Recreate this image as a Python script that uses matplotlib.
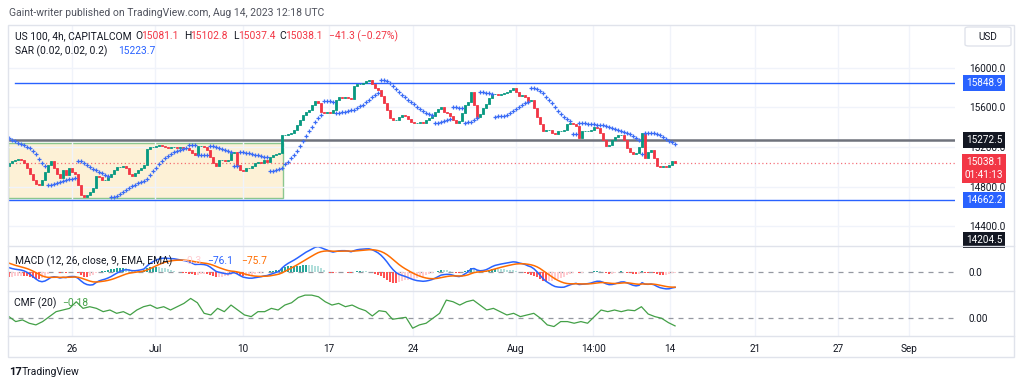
import numpy as np
import matplotlib
matplotlib.use("Agg")
import matplotlib.pyplot as plt
from matplotlib.patches import Rectangle, FancyBboxPatch
from matplotlib.lines import Line2D
from matplotlib.transforms import blended_transform_factory

plt.rcParams['font.family'] = ['Roboto', 'DejaVu Sans']

# --- data (US100 4h closes, one per bar) ---
closes = [
    15039, 15059, 15069, 15079, 15069, 15039, 14988, 14927, 14867, 14826,
    14816, 14867, 14947, 15018, 15059, 14988, 14927, 14887, 14968, 14917,
    14988, 14947, 14927, 14816, 14715, 14694, 14715, 14745, 14786, 14907,
    14897, 14867, 14867, 14897, 14927, 14968, 14998, 14998, 15008, 14988,
    14927, 14907, 14937, 14968, 14988, 15018, 15180, 15200, 15200, 15211,
    15221, 15211, 15200, 15190, 15200, 15200, 15190, 15200, 15190, 15190,
    15170, 15140, 15120, 15211, 15211, 15200, 15170, 15099, 15039, 15008,
    15069, 15069, 15059, 15069, 15140, 15150, 15018, 14968, 14958, 14988,
    14988, 15008, 15039, 15049, 15039, 15069, 15049, 15099, 15120, 15130,
    15140, 15322, 15322, 15332, 15342, 15373, 15423, 15474, 15524, 15555,
    15575, 15626, 15666, 15646, 15555, 15545, 15555, 15545, 15575, 15676,
    15707, 15697, 15707, 15697, 15686, 15818, 15838, 15838, 15848, 15868,
    15879, 15838, 15798, 15777, 15717, 15646, 15575, 15494, 15474, 15474,
    15504, 15524, 15514, 15484, 15454, 15444, 15444, 15454, 15444, 15474,
    15494, 15514, 15555, 15585, 15606, 15555, 15545, 15514, 15474, 15444,
    15464, 15545, 15626, 15656, 15757, 15626, 15504, 15535, 15595, 15636,
    15697, 15737, 15737, 15727, 15737, 15747, 15757, 15777, 15798, 15757,
    15717, 15727, 15707, 15666, 15676, 15595, 15504, 15433, 15362, 15373,
    15373, 15342, 15332, 15362, 15362, 15373, 15433, 15444, 15433, 15413,
    15292, 15362, 15362, 15362, 15373, 15403, 15393, 15342, 15271, 15211,
    15221, 15271, 15302, 15322, 15322, 15271, 15190, 15150, 15130, 15140,
    15200, 15342, 15089, 15150, 15170, 15089, 15008, 14998, 15008, 14998,
    15018, 15059, 15038.1,
]
first_open = 15010.0

# Chaikin money flow, traced (evenly spaced over the bars)
cmf = [
    0.022, -0.086, -0.050, -0.122, -0.158, -0.086, 0.022, 0.130, 0.166, 0.202,
    0.346, 0.202, 0.238, 0.202, 0.130, 0.166, 0.094, 0.130, 0.058, 0.166,
    0.238, 0.274, 0.202, 0.238, 0.166, 0.238, 0.310, 0.418, 0.324, 0.094,
    0.058, 0.202, 0.130, 0.274, 0.166, 0.058, 0.022, 0.130, 0.130, 0.202,
    0.166, 0.274, 0.324, 0.439, 0.490, 0.490, 0.454, 0.346, 0.274, 0.310,
    0.238, 0.274, 0.202, 0.151, 0.036, 0.151, 0.130, -0.036, -0.014, 0.007,
    -0.230, -0.158, -0.122, -0.014, 0.094, 0.382, 0.346, 0.274, 0.346, 0.382,
    0.274, 0.166, 0.202, 0.130, 0.058, 0.094, 0.022, 0.058, 0.094, -0.014,
    -0.158, -0.194, -0.086, -0.086, -0.122, -0.086, -0.122, 0.022, 0.166, 0.130,
    0.166, 0.130, 0.166, 0.151, 0.238, 0.079, 0.022, -0.014, -0.108, -0.180,
]

# indicator state just before the first visible bar
sar_first = 15290.0
sar_af_first = 0.06
macd_fast_seed = 70.0   # offset of EMA12 above first close
macd_slow_seed = 35.0   # offset of EMA26 above first close
signal_seed = 58.0

tick_bars = [21, 48.7, 78, 106.7, 134.7, 169, 194.7, 220.3, 248.7, 276.3, 300]
tick_labels = ['26', 'Jul', '10', '17', '24', 'Aug', '14:00', '14', '21', '27', 'Sep']
price_ticks = [14400, 14800, 15200, 15600, 16000]

level_blue_top = 15848.9
level_black = 15272.5
level_blue_low = 14662.2
level_bottom = 14204.5
last_price = 15038.1
box_top, box_bottom = 15238, 14684
box_end_bar = 91.3

UP, DOWN = '#089981', '#F23645'
DARK = '#131722'
BLUE = '#2962FF'
GRID = '#F0F3FA'

# --- derived series ---
c = np.array(closes, dtype=float)
o = np.r_[first_open, c[:-1]]
hi = np.maximum(o, c)
lo = np.minimum(o, c)
n = len(c)
xs = np.arange(n)


def psar(hi, lo, first, af0, step=0.02, amax=0.2):
    out = np.empty(len(hi))
    res, below, ep, af = first, False, lo[0], af0
    out[0] = res
    for i in range(1, len(hi)):
        flip = False
        res = res + af * (ep - res)
        if below:
            if res > lo[i]:
                flip, below = True, False
                res = max(hi[i], ep)
                ep, af = lo[i], step
        else:
            if res < hi[i]:
                flip, below = True, True
                res = min(lo[i], ep)
                ep, af = hi[i], step
        if not flip:
            if below and hi[i] > ep:
                ep, af = hi[i], min(af + step, amax)
            elif not below and lo[i] < ep:
                ep, af = lo[i], min(af + step, amax)
        j = i - 2 if i > 1 else i - 1
        if below:
            res = min(res, lo[i - 1], lo[j])
        else:
            res = max(res, hi[i - 1], hi[j])
        out[i] = res
    return out


def ema(x, span, prev):
    a = 2.0 / (span + 1)
    out = np.empty(len(x))
    for i, v in enumerate(x):
        prev = prev + a * (v - prev)
        out[i] = prev
    return out


sar = psar(hi, lo, sar_first, sar_af_first)
fast = ema(c, 12, c[0] + macd_fast_seed)
slow = ema(c, 26, c[0] + macd_slow_seed)
macd = fast - slow
signal = ema(macd, 9, signal_seed)
hist = macd - signal
hist_prev = np.r_[hist[0], hist[:-1]]
hist_col = np.where(hist >= 0,
                    np.where(hist > hist_prev, '#26A69A', '#B2DFDB'),
                    np.where(hist > hist_prev, '#FFCDD2', '#FF5252'))

# --- figure ---
W, H = 1024, 388
fig = plt.figure(figsize=(W / 100, H / 100), dpi=100)


def rect(x0, y0, x1, y1):
    return [x0 / W, 1 - y1 / H, (x1 - x0) / W, (y1 - y0) / H]


ax = fig.add_axes(rect(8, 25, 955, 246))
axm = fig.add_axes(rect(8, 246, 955, 291), sharex=ax)
axc = fig.add_axes(rect(8, 291, 955, 336), sharex=ax)

for a in (ax, axm, axc):
    for s in a.spines.values():
        s.set_visible(False)
    a.set_xticks(tick_bars)
    a.grid(axis='x', color=GRID, lw=1)
    a.yaxis.tick_right()
    a.tick_params(length=0, labelsize=7.2, colors=DARK)
ax.set_xlim(-0.33, 315.3)
ax.tick_params(axis='x', labelbottom=False)
axm.tick_params(axis='x', labelbottom=False)
axc.set_xticklabels(tick_labels)
axc.tick_params(axis='x', pad=6)

# main pane
ax.set_ylim(14200, 16432)
ax.set_yticks(price_ticks)
ax.set_yticklabels([f'{p:.1f}' for p in price_ticks])
ax.tick_params(axis='y', pad=10)
ax.grid(axis='y', color=GRID, lw=1)

ax.add_patch(Rectangle((-0.33, box_bottom), box_end_bar + 0.33, box_top - box_bottom,
                       fc='#FDF1D6', ec='#8CC78F', lw=1, zorder=1))
ax.axhline(level_black, color='#6F727C', lw=1.8, zorder=2)
ax.plot([2, 315.3], [level_blue_top] * 2, color=BLUE, lw=1, zorder=2)
ax.axhline(level_blue_low, color=BLUE, lw=1, zorder=2)
ax.axhline(last_price, color=DOWN, lw=0.9, ls=(0, (1, 2)), alpha=0.7, zorder=2)

col = np.where(c >= o, UP, DOWN)
ax.bar(xs, c - o, bottom=o, width=0.6, color=col, edgecolor=col, lw=0.6, zorder=3)
ax.plot(xs, sar, ls='none', marker='+', ms=2.2, mew=0.9, color='#3B6CF6', zorder=4)

tr = blended_transform_factory(ax.transAxes, ax.transData)
tag_x = (984 - 8) / 947


def tag(price, text, bg):
    ax.text(tag_x, price, text, transform=tr, ha='center', va='center', fontsize=7.2,
            color='white', clip_on=False, zorder=10,
            bbox=dict(boxstyle='square,pad=0.3', fc=bg, ec='none'))


tag(level_blue_top, f'{level_blue_top:.1f}', BLUE)
tag(level_black, f'{level_black:.1f}', DARK)
tag(level_blue_low, f'{level_blue_low:.1f}', BLUE)
tag(max(level_bottom, 14200 + 65), f'{level_bottom:.1f}', DARK)
ax.annotate(f'{last_price:.1f}\n01:41:13', xy=(tag_x, last_price), xycoords=tr,
            xytext=(0, 6), textcoords='offset pixels', ha='center', va='top',
            fontsize=7.2, color='white', linespacing=1.35, annotation_clip=False, zorder=10,
            bbox=dict(boxstyle='square,pad=0.3', fc=DOWN, ec='none'))

# MACD pane
axm.set_ylim(-103, 147)
axm.set_yticks([0])
axm.set_yticklabels(['0.0'])
axm.tick_params(axis='y', pad=10)
axm.axhline(0, color='#9598A1', lw=0.9, ls=(0, (4, 4)))
axm.bar(xs, hist, width=0.6, color=hist_col, zorder=2)
axm.plot(xs, macd, color=BLUE, lw=1.1, zorder=3)
axm.plot(xs, signal, color='#FF6D00', lw=1.1, zorder=3)

# CMF pane
axc.set_ylim(-0.40, 0.58)
axc.set_yticks([0])
axc.set_yticklabels(['0.00'])
axc.tick_params(axis='y', pad=10)
axc.axhline(0, color='#9598A1', lw=0.9, ls=(0, (4, 4)))
axc.plot(np.linspace(0, n - 1, len(cmf)), cmf, color='#43A047', lw=0.9, zorder=3)

# frame and pane separators
fig.add_artist(Rectangle((8 / W, 1 - 357 / H), 1006 / W, 332 / H, fill=False,
                         ec='#E0E3EB', lw=1, transform=fig.transFigure))
for yy in (246, 291, 336):
    fig.add_artist(Line2D([8 / W, 1014 / W], [1 - yy / H] * 2, color='#E0E3EB', lw=1))

# USD box
fig.add_artist(FancyBboxPatch((965 / W, 1 - 46 / H), 46 / W, 19 / H,
                              boxstyle='round,pad=0,rounding_size=0.004',
                              fc='white', ec='#E0E3EB', lw=1, transform=fig.transFigure))
fig.text(988 / W, 1 - 36.5 / H, 'USD', ha='center', va='center', fontsize=7.2, color=DARK)


def ftext(x, y, s, color=DARK, size=7.4, **kw):
    fig.text(x / W, 1 - y / H, s, color=color, fontsize=size, va='center', **kw)


ftext(9, 13, 'Gaint-writer published on TradingView.com, Aug 14, 2023 12:18 UTC', '#50535E', 7.45)
ftext(15, 36, 'US 100, 4h, CAPITALCOM')
ftext(135, 36, 'O')
ftext(141, 36, '15081.1', DOWN)
ftext(184, 36, 'H')
ftext(190, 36, '15102.8', DOWN)
ftext(233, 36, 'L')
ftext(238, 36, '15037.4', DOWN)
ftext(279, 36, 'C')
ftext(285, 36, '15038.1', DOWN)
ftext(329, 36, '\u221241.3 (\u22120.27%)', DOWN)
ftext(15, 51, 'SAR (0.02, 0.02, 0.2)')
ftext(118, 51, '15223.7', BLUE)

ftext(15, 261, 'MACD (12, 26, close, 9, EMA, EMA)')
ftext(181, 261, '\u22120.3', '#FFCDD2')
ftext(207, 261, '\u221276.1', BLUE)
ftext(241, 261, '\u221275.7', '#FF6D00')
ftext(14, 303, 'CMF (20)')
ftext(62, 303, '\u22120.18', '#43A047')

ftext(9, 372, '17', DARK, 8, fontweight='bold')
ftext(22, 372, 'TradingView', DARK, 7.5)

fig.savefig('out.png', dpi=100, facecolor='white')
